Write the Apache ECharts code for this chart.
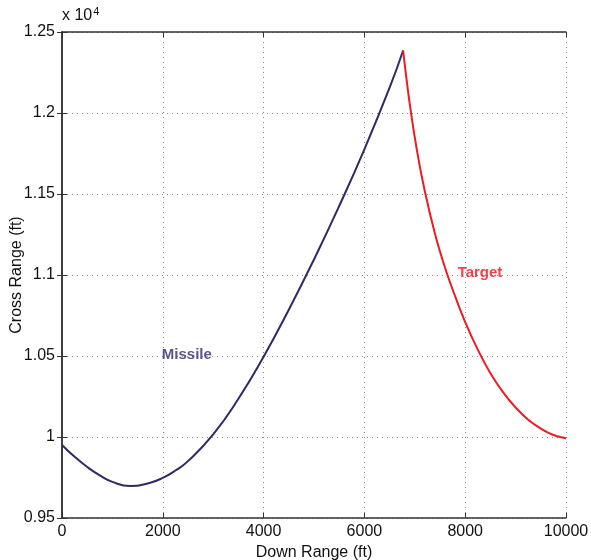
<!DOCTYPE html>
<html>
<head>
<meta charset="utf-8">
<script src="https://cdn.jsdelivr.net/npm/echarts@6/dist/echarts.min.js"></script>
<style>
html,body{margin:0;padding:0;background:#fff;}
#chart{width:591px;height:560px;}
</style>
</head>
<body>
<div id="chart"></div>
<script>
// Down Range (ft) / Cross Range (ft)
var missileX = [0, 250, 500, 750, 1000, 1350, 1750, 2000, 2250, 2500, 3000, 3500, 4000, 4500, 5000, 5500, 6000, 6500, 6768];
var missileY = [9951, 9878, 9815, 9763, 9723, 9697, 9718, 9748, 9793, 9851, 10016, 10236, 10496, 10786, 11096, 11426, 11776, 12156, 12386];
var targetX = [6768, 6900, 7050, 7200, 7400, 7600, 7800, 8000, 8250, 8500, 8750, 9000, 9250, 9500, 9750, 10000];
var targetY = [12386, 12055, 11755, 11515, 11255, 11045, 10869, 10709, 10539, 10394, 10277, 10182, 10107, 10052, 10012, 9992];
var xTicks = [0, 2000, 4000, 6000, 8000, 10000];
var yTickLabels = ['0.95', '1', '1.05', '1.1', '1.15', '1.2', '1.25'];
var labelMissile = [1980, 10509, 'Missile'];
var labelTarget = [7850, 11012, 'Target'];

function zip(a, b) { return a.map(function (v, i) { return [v, b[i]]; }); }

var font = '"Liberation Sans", Arial, Helvetica, sans-serif';
var chart = echarts.init(document.getElementById('chart'));
var gridLine = { show: true, lineStyle: { color: '#8a8a8a', type: [1, 4], width: 1 } };
var axisLine = { show: true, lineStyle: { color: '#333', width: 1.5 } };
var tick = { show: true, inside: true, length: 5, lineStyle: { color: '#333', width: 1 } };

chart.setOption({
  animation: false,
  backgroundColor: '#fff',
  grid: { left: 62, right: 25, top: 32, bottom: 42, containLabel: false, outerBoundsMode: 'none' },
  xAxis: [{
    type: 'value', min: 0, max: 10000, interval: 2000,
    name: 'Down Range (ft)', nameLocation: 'middle', nameGap: 27, nameMoveOverlap: false,
    nameTextStyle: { fontFamily: font, fontSize: 16, color: '#111' },
    axisLine: axisLine, axisTick: tick, splitLine: gridLine,
    axisLabel: { fontFamily: font, fontSize: 16, color: '#111', margin: 6,
      formatter: function (v) { return xTicks.indexOf(v) >= 0 ? String(v) : ''; } }
  }, {
    type: 'value', min: 0, max: 10000, interval: 2000, position: 'top',
    axisLine: axisLine, axisTick: tick, splitLine: { show: false }, axisLabel: { show: false }
  }],
  yAxis: [{
    type: 'value', min: 9500, max: 12500, interval: 500,
    name: 'Cross Range (ft)', nameLocation: 'middle', nameGap: 37, nameMoveOverlap: false,
    nameTextStyle: { fontFamily: font, fontSize: 16, color: '#111' },
    axisLine: axisLine, axisTick: tick, splitLine: gridLine,
    axisLabel: { fontFamily: font, fontSize: 16, color: '#111', margin: 7,
      formatter: function (v) { return yTickLabels[Math.round((v - 9500) / 500)]; } }
  }, {
    type: 'value', min: 9500, max: 12500, interval: 500, position: 'right',
    axisLine: axisLine, axisTick: tick, splitLine: { show: false }, axisLabel: { show: false }
  }],
  series: [{
    type: 'line', name: 'Missile', data: zip(missileX, missileY), smooth: 0.5,
    showSymbol: false, lineStyle: { color: '#2f2a62', width: 2 }, z: 3
  }, {
    type: 'line', name: 'Target', data: zip(targetX, targetY), smooth: 0.4,
    showSymbol: false, lineStyle: { color: '#ec1c24', width: 2 }, z: 3
  }, {
    type: 'scatter', symbolSize: 0, z: 4,
    data: [
      { value: labelMissile.slice(0, 2), label: { formatter: labelMissile[2], color: '#35286a' } },
      { value: labelTarget.slice(0, 2), label: { formatter: labelTarget[2], color: '#e8141b' } }
    ],
    label: { show: true, position: 'right', distance: 0, fontFamily: font, fontSize: 15, fontWeight: 'bold' }
  }],
  graphic: [{
    type: 'text', left: 62, top: 6,
    style: {
      text: '{a|x 10}{b|4}', fontFamily: font,
      rich: { a: { fontSize: 16, fill: '#111', fontFamily: font }, b: { fontSize: 11, fill: '#111', fontFamily: font, verticalAlign: 'top', padding: [0, 0, 9, 1] } }
    }
  }]
});
</script>
</body>
</html>
